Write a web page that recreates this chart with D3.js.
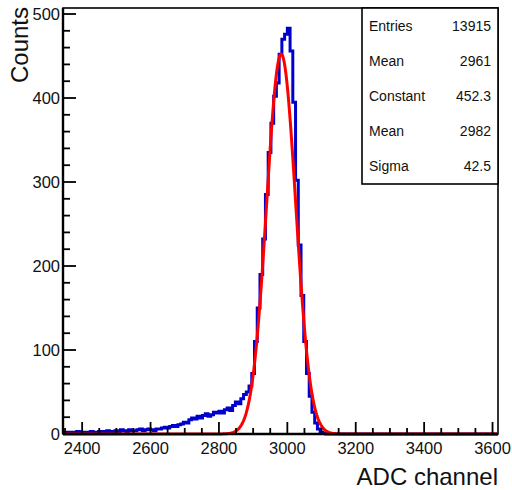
<!DOCTYPE html>
<html>
<head>
<meta charset="utf-8">
<script src="https://cdn.jsdelivr.net/npm/d3@7"></script>
<style>
  html, body { margin: 0; padding: 0; background: #fff; }
  #chart { width: 512px; height: 490px; }
</style>
</head>
<body>
<div id="chart"></div>
<script>
// ── Histogram data (ADC channel, 8-channel bins from 2344) ─
const BIN_START = 2344;
const BIN_WIDTH = 8;
const COUNTS = [
  1, 2, 2, 1, 2, 3, 1, 2, 2, 1, 3, 2, 2, 3,
  3, 2, 4, 3, 3, 4, 3, 5, 4, 3, 5, 4, 4, 5, 6, 4, 5, 6,
  5, 4, 6, 6, 7, 8, 7, 9, 10, 9, 11, 12, 14, 13, 17, 19, 18, 21, 19, 22, 24, 21, 23, 26, 25,
  27, 25, 29, 31, 28, 34, 38, 36, 42, 47, 50, 57, 72,
  110, 150, 190, 232, 285, 335, 370, 402, 418, 452, 470, 476, 483, 456,
  395, 302, 225, 165, 110, 72, 45, 26, 13, 6, 2, 1,
  0, 0, 0, 0, 0, 0, 0, 0, 0, 0, 0, 0, 0, 0, 0, 0, 0, 0, 0, 0, 0,
  0, 0, 0, 0, 0, 0, 0, 0, 0, 0, 0, 0, 0, 0, 0, 0, 0, 0, 0, 0, 0,
  0, 0, 0, 0, 0, 0, 0, 0, 0, 0, 0, 0, 0, 0, 0, 0, 0, 0, 0, 0, 0
];

// Gaussian fit parameters
const FIT_PARAMS = [452.3, 2982, 42.5];   // constant, mean, sigma

// Stats box
const STAT_LABELS = ["Entries", "Mean", "Constant", "Mean", "Sigma"];
const STAT_VALUES = ["13915", "2961", "452.3", "2982", "42.5"];

const X_TICKS = [2400, 2600, 2800, 3000, 3200, 3400, 3600];
const Y_TICKS = [0, 100, 200, 300, 400, 500];

(function () {
  const W = 512, H = 490;
  const FONT = "'Liberation Sans', Arial, Helvetica, sans-serif";
  const frame = { left: 63, right: 498, top: 8, bottom: 434 };

  const svg = d3.select("#chart").append("svg")
    .attr("width", W).attr("height", H);

  const xMax = BIN_START + BIN_WIDTH * COUNTS.length;
  const x = d3.scaleLinear().domain([BIN_START, xMax]).range([frame.left, frame.right]);
  const y = d3.scaleLinear().domain([0, d3.max(COUNTS) * 1.05]).range([frame.bottom, frame.top]);

  // Frame
  svg.append("rect")
    .attr("x", frame.left).attr("y", frame.top)
    .attr("width", frame.right - frame.left).attr("height", frame.bottom - frame.top)
    .attr("fill", "none").attr("stroke", "#000").attr("stroke-width", 1.6);

  // ── Histogram (step line) ──
  const steps = COUNTS.map((c, i) => [BIN_START + i * BIN_WIDTH, c]);
  steps.push([xMax, COUNTS[COUNTS.length - 1]]);
  svg.append("path")
    .attr("d", d3.line().x(d => x(d[0])).y(d => y(d[1])).curve(d3.curveStepAfter)(steps))
    .attr("fill", "none").attr("stroke", "#0000cc").attr("stroke-width", 3);

  // ── Fit curve ──
  const [A, mu, sig] = FIT_PARAMS;
  const gauss = v => A * Math.exp(-0.5 * ((v - mu) / sig) ** 2);
  const fitPts = d3.range(BIN_START, xMax + 0.5, 2).map(v => [v, gauss(v)]);
  svg.append("path")
    .attr("d", d3.line().x(d => x(d[0])).y(d => y(d[1])).curve(d3.curveLinear)(fitPts))
    .attr("fill", "none").attr("stroke", "#ff0000").attr("stroke-width", 3)
    .attr("stroke-linejoin", "round");

  // ── Axes (ROOT style: ticks inward) ──
  const tickG = svg.append("g").attr("stroke", "#000").attr("stroke-width", 1.8);
  d3.range(2350, xMax, 50).forEach(v => {
    const major = v % 200 === 0;
    tickG.append("line")
      .attr("x1", x(v)).attr("x2", x(v))
      .attr("y1", frame.bottom).attr("y2", frame.bottom - (major ? 12 : 6));
  });
  d3.range(0, y.domain()[1], 20).forEach(v => {
    const major = v % 100 === 0;
    tickG.append("line")
      .attr("x1", frame.left).attr("x2", frame.left + (major ? 13 : 7))
      .attr("y1", y(v)).attr("y2", y(v));
  });
  svg.append("line")
    .attr("x1", frame.left).attr("x2", frame.right)
    .attr("y1", frame.bottom).attr("y2", frame.bottom)
    .attr("stroke", "#000").attr("stroke-width", 2.4);
  svg.append("line")
    .attr("x1", frame.left).attr("x2", frame.left)
    .attr("y1", frame.top).attr("y2", frame.bottom)
    .attr("stroke", "#000").attr("stroke-width", 2.4);

  svg.append("g").selectAll("text").data(X_TICKS).join("text")
    .attr("x", d => x(d)).attr("y", 453.5)
    .attr("text-anchor", "middle")
    .attr("font-family", FONT).attr("font-size", "16.5px").attr("fill", "#111")
    .text(d => d);

  svg.append("g").selectAll("text").data(Y_TICKS).join("text")
    .attr("x", 60).attr("y", d => y(d) + 6)
    .attr("text-anchor", "end")
    .attr("font-family", FONT).attr("font-size", "16.5px").attr("fill", "#111")
    .text(d => d);

  // Axis titles
  svg.append("text")
    .attr("x", frame.right).attr("y", 485)
    .attr("text-anchor", "end")
    .attr("font-family", FONT).attr("font-size", "24px").attr("fill", "#111")
    .text("ADC channel");
  svg.append("text")
    .attr("transform", "translate(28,7) rotate(-90)")
    .attr("text-anchor", "end")
    .attr("font-family", FONT).attr("font-size", "24px").attr("fill", "#111")
    .text("Counts");

  // ── Stats box ──
  const box = { x: 362, y: frame.top, w: frame.right - 362, h: 176 };
  svg.append("rect")
    .attr("x", box.x).attr("y", box.y).attr("width", box.w).attr("height", box.h)
    .attr("fill", "#fff").attr("stroke", "#000").attr("stroke-width", 1.6);
  const rowH = box.h / STAT_LABELS.length;
  STAT_LABELS.forEach((lab, i) => {
    const cy = box.y + rowH * (i + 0.5) + 5;
    svg.append("text")
      .attr("x", box.x + 7).attr("y", cy)
      .attr("font-family", FONT).attr("font-size", "14px").attr("fill", "#111")
      .text(lab);
    svg.append("text")
      .attr("x", box.x + box.w - 7).attr("y", cy)
      .attr("text-anchor", "end")
      .attr("font-family", FONT).attr("font-size", "14px").attr("fill", "#111")
      .text(STAT_VALUES[i]);
  });
})();
</script>
</body>
</html>
